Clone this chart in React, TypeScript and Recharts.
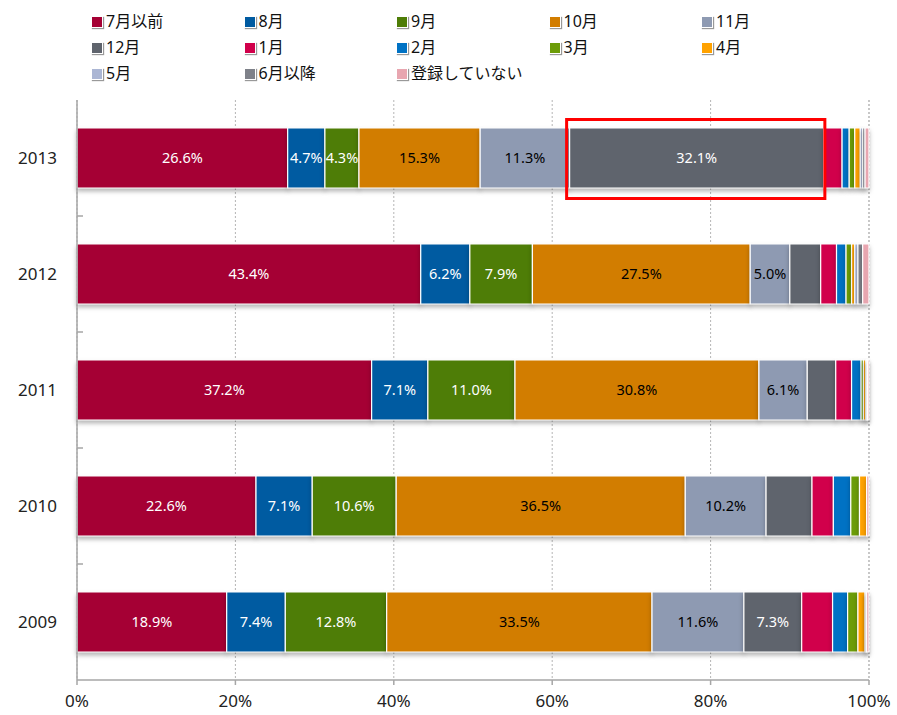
import { Bar, BarChart, CartesianGrid, LabelList, ReferenceArea, XAxis, YAxis } from 'recharts';

const years = ['2013', '2012', '2011', '2010', '2009'];

// share of registrations by month (%), one value per year above
const jul = [26.6, 43.4, 37.2, 22.6, 18.9];
const aug = [4.7, 6.2, 7.1, 7.1, 7.4];
const sep = [4.3, 7.9, 11.0, 10.6, 12.8];
const oct = [15.3, 27.5, 30.8, 36.5, 33.5];
const nov = [11.3, 5.0, 6.1, 10.2, 11.6];
const dec = [32.1, 3.9, 3.6, 5.8, 7.3];
const jan = [2.3, 2.0, 2.0, 2.7, 3.9];
const feb = [0.9, 1.2, 1.2, 2.2, 1.9];
const mar = [0.7, 0.7, 0.3, 1.1, 1.3];
const apr = [0.7, 0.4, 0.3, 0.9, 0.9];
const may = [0.3, 0.4, 0.1, 0, 0.1];
const junAfter = [0.3, 0.6, 0.1, 0, 0.1];
const notRegistered = [0.5, 0.8, 0.2, 0.3, 0.3];

const xTicks = [0, 20, 40, 60, 80, 100];

// segments the original leaves without a value label
const unlabeled = ['dec-2010'];

const series = [
  { key: 'jul', name: '7月以前', values: jul, color: '#a50034', text: '#fff' },
  { key: 'aug', name: '8月', values: aug, color: '#005ba1', text: '#fff' },
  { key: 'sep', name: '9月', values: sep, color: '#4e7d07', text: '#fff' },
  { key: 'oct', name: '10月', values: oct, color: '#d27d00', text: '#000' },
  { key: 'nov', name: '11月', values: nov, color: '#8e9ab2', text: '#000' },
  { key: 'dec', name: '12月', values: dec, color: '#5f646d', text: '#fff' },
  { key: 'jan', name: '1月', values: jan, color: '#d1004b', text: '#fff' },
  { key: 'feb', name: '2月', values: feb, color: '#0072c4', text: '#fff' },
  { key: 'mar', name: '3月', values: mar, color: '#6c9c08', text: '#fff' },
  { key: 'apr', name: '4月', values: apr, color: '#ffa200', text: '#000' },
  { key: 'may', name: '5月', values: may, color: '#abb6d4', text: '#000' },
  { key: 'junAfter', name: '6月以降', values: junAfter, color: '#7e8189', text: '#fff' },
  { key: 'none', name: '登録していない', values: notRegistered, color: '#e8a6b0', text: '#000' },
];

const data = years.map((year, i) => {
  const row: Record<string, string | number> = { year };
  series.forEach((s) => {
    row[s.key] = s.values[i];
  });
  return row;
});

// the highlighted segment: 12月 of 2013
const hlStart = jul[0] + aug[0] + sep[0] + oct[0] + nov[0];
const hlEnd = hlStart + dec[0];

const FONT = "'Noto Sans', 'Noto Sans CJK JP', sans-serif";
const W = 897;
const H = 715;
const BAND_HALF = 58;

function YearTick(props: any) {
  const { x, y, payload, index } = props;
  return (
    <g>
      <text x={x - 20} y={y} dy={6} textAnchor="end" fontSize={17} fill="#222" fontFamily={FONT}>
        {payload.value}
      </text>
      {index < years.length - 1 && (
        <line x1={x} x2={x + 6} y1={y + BAND_HALF} y2={y + BAND_HALF} stroke="#a6a6a6" strokeWidth={1.5} />
      )}
    </g>
  );
}

function makeLabel(key: string, color: string) {
  return (props: any) => {
    const { x, y, width, height, value, index } = props;
    if (value == null || value < 4) return null;
    if (unlabeled.includes(`${key}-${years[index]}`)) return null;
    return (
      <text
        x={x + width / 2}
        y={y + height / 2}
        dy={5}
        textAnchor="middle"
        fontSize={14.5}
        fill={color}
        fontFamily={FONT}
      >
        {value.toFixed(1)}%
      </text>
    );
  };
}

function HighlightBox(props: any) {
  const { x, y, width, height } = props;
  const cy = y + height / 2;
  return (
    <rect
      x={x - 3}
      y={cy - 38.5}
      width={width + 4}
      height={79}
      fill="none"
      stroke="#ff0000"
      strokeWidth={3}
    />
  );
}

export default function App() {
  return (
    <div style={{ position: 'absolute', left: 0, top: 0, width: W, height: H, background: '#fff' }}>
      <style>{`.recharts-bar-rectangles { filter: drop-shadow(0px 3px 2px rgba(0,0,0,0.28)); }`}</style>
      {series.map((s, i) => (
        <div
          key={s.key}
          style={{
            position: 'absolute',
            left: 91 + (i % 5) * 152.5,
            top: 8 + Math.floor(i / 5) * 26,
            display: 'flex',
            alignItems: 'center',
            fontFamily: FONT,
            fontSize: 16,
            color: '#111',
            whiteSpace: 'nowrap',
          }}
        >
          <span
            style={{
              display: 'inline-block',
              width: 10,
              height: 10,
              background: s.color,
              border: '1px solid #fff',
              boxShadow: '1px 1px 1px #999',
              marginRight: 3,
              marginTop: 4,
            }}
          />
          {s.name}
        </div>
      ))}
      <BarChart
        width={W}
        height={H}
        data={data}
        layout="vertical"
        margin={{ top: 100, right: 28, left: 17, bottom: 5 }}
        barCategoryGap={28}
      >
        <CartesianGrid horizontal={false} stroke="#b5b5b5" strokeDasharray="2 2" />
        <XAxis
          type="number"
          domain={[0, 100]}
          ticks={xTicks}
          tickFormatter={(v) => `${v}%`}
          stroke="#a6a6a6"
          strokeWidth={1.5}
          tickSize={5}
          tickMargin={10}
          height={30}
          tick={{ fontSize: 17, fill: '#222', fontFamily: FONT }}
          interval={0}
        />
        <YAxis
          type="category"
          dataKey="year"
          width={60}
          stroke="#a6a6a6"
          strokeWidth={1.5}
          tickLine={false}
          tickSize={0}
          tickMargin={0}
          tick={<YearTick />}
          interval={0}
        />
        {series.map((s) => (
          <Bar
            key={s.key}
            dataKey={s.key}
            name={s.name}
            stackId="a"
            fill={s.color}
            stroke="#fff"
            strokeWidth={1.2}
            barSize={60}
            isAnimationActive={false}
          >
            <LabelList dataKey={s.key} content={makeLabel(s.key, s.text)} />
          </Bar>
        ))}
        <ReferenceArea
          x1={hlStart}
          x2={hlEnd}
          y1="2013"
          y2="2013"
          ifOverflow="visible"
          shape={<HighlightBox />}
          zIndex={2500}
        />
      </BarChart>
    </div>
  );
}
